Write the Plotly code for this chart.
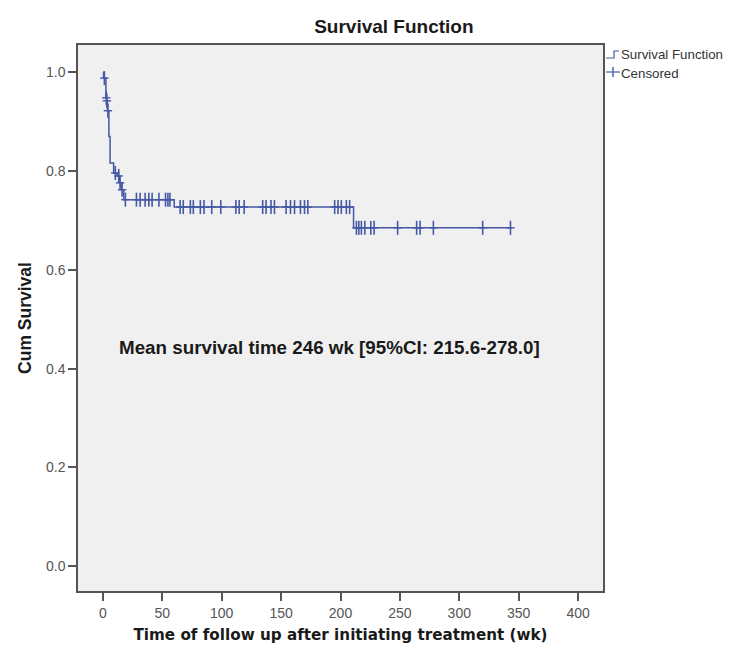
import plotly.graph_objects as go
import numpy as np

# Kaplan-Meier step function (event times and survival after each step)
step_times = [0, 0.5, 2.5, 3.2, 3.8, 5, 6, 9, 12, 14, 15.5, 17.5, 60, 211]
step_surv = [1.0, 0.988, 0.948, 0.942, 0.922, 0.87, 0.816, 0.796, 0.790, 0.776, 0.762, 0.742, 0.727, 0.685]
end_time = 344

# Censored observation times (wk)
censored_times = [1.2, 2.8, 3.3, 4.2, 10.4, 13.3, 14.4, 16.1,
                  18.9, 28.2, 31.3, 35.5, 38.6, 41.4, 47.1, 52.7, 54.7, 56.4,
                  65, 67.6, 73.6, 76.1, 82, 85.1, 91.6, 99.2, 111.9, 114.7, 118.9,
                  134.5, 137.3, 141.5, 144.4, 154.2, 157.9, 161.3, 166.3, 169.7, 172.5,
                  195.1, 197.9, 200.7, 204.9, 207.7,
                  213.4, 215.4, 217.6, 220.5, 225.5, 228.3, 248.1, 264.1, 267.0, 278.2,
                  319.7, 343.1]

x_ticks = [0, 50, 100, 150, 200, 250, 300, 350, 400]
y_ticks = [0.0, 0.2, 0.4, 0.6, 0.8, 1.0]
y_tick_labels = ["0.0", "0.2", "0.4", "0.6", "0.8", "1.0"]

title_text = "Survival Function"
x_title = "Time of follow up after initiating treatment (wk)"
y_title = "Cum Survival"
note_text = "Mean survival time 246 wk [95%CI: 215.6-278.0]"
legend_labels = ["Survival Function", "Censored"]

blue = "#4558A5"
arial = "Arial, Liberation Sans, sans-serif"

line_x = step_times + [end_time]
line_y = step_surv + [step_surv[-1]]

def surv_at(t):
    idx = np.searchsorted(step_times, t, side="right") - 1
    return step_surv[idx]

cens_y = [surv_at(t) for t in censored_times]

fig = go.Figure()
fig.add_trace(go.Scatter(x=line_x, y=line_y, mode="lines", line=dict(shape="hv", color=blue, width=1.5),
                         name=legend_labels[0], showlegend=False, hoverinfo="skip"))
# censored "+" marks: taller vertical stroke, shorter horizontal stroke
fig.add_trace(go.Scatter(x=censored_times, y=cens_y, mode="markers",
                         marker=dict(symbol="line-ns", size=10, line=dict(color=blue, width=1.6), color=blue),
                         name=legend_labels[1], showlegend=False))
fig.add_trace(go.Scatter(x=censored_times, y=cens_y, mode="markers",
                         marker=dict(symbol="line-ew", size=6, line=dict(color=blue, width=1.4), color=blue),
                         name=legend_labels[1], showlegend=False, hoverinfo="skip"))

# custom legend (SPSS style), in paper coordinates
def px_x(p):
    return (p - 70) / 525.0

def px_y(p):
    return (583 - p) / 546.0

fig.add_shape(type="path", xref="paper", yref="paper",
              path=f"M {px_x(598)},{px_y(50)} L {px_x(606)},{px_y(50)} L {px_x(606)},{px_y(43)} L {px_x(611)},{px_y(43)}",
              line=dict(color=blue, width=1.2))
fig.add_shape(type="line", xref="paper", yref="paper", x0=px_x(598), x1=px_x(612), y0=px_y(64), y1=px_y(64),
              line=dict(color=blue, width=1.2))
fig.add_shape(type="line", xref="paper", yref="paper", x0=px_x(605), x1=px_x(605), y0=px_y(59), y1=px_y(69),
              line=dict(color=blue, width=1.4))
fig.add_annotation(x=px_x(611), y=px_y(46), xref="paper", yref="paper", text=legend_labels[0],
                   showarrow=False, xanchor="left", yanchor="middle",
                   font=dict(family=arial, size=13.3, color="#333"))
fig.add_annotation(x=px_x(611), y=px_y(65), xref="paper", yref="paper", text=legend_labels[1],
                   showarrow=False, xanchor="left", yanchor="middle",
                   font=dict(family=arial, size=13.3, color="#333"))

fig.add_annotation(x=11.8, y=0.442, xref="x", yref="y", text="<b>" + note_text + "</b>",
                   showarrow=False, xanchor="left", yanchor="middle",
                   font=dict(family=arial, size=18.8, color="#1a1a1a"))

fig.update_layout(
    width=735, height=645,
    paper_bgcolor="white", plot_bgcolor="#F0F0F0",
    margin=dict(l=70, r=140, t=37, b=62, autoexpand=False),
    showlegend=False,
    title=dict(text="<b>" + title_text + "</b>", x=0.525, xanchor="center", y=0.971, yanchor="middle",
               font=dict(family=arial, size=19, color="#1a1a1a")),
    xaxis=dict(range=[-21, 421], tickvals=x_ticks, ticks="outside", ticklen=8, tickcolor="#555",
               tickwidth=1.5, showgrid=False, zeroline=False, showline=True, linecolor="#555",
               linewidth=1.5, mirror=True,
               tickfont=dict(family=arial, size=14, color="#555"),
               title=dict(text="<b>" + x_title + "</b>", standoff=10,
                          font=dict(family="DejaVu Sans", size=15.2, color="#1a1a1a"))),
    yaxis=dict(range=[-0.05, 1.055], tickvals=y_ticks, ticktext=y_tick_labels, ticks="outside", ticklen=8,
               tickcolor="#555", tickwidth=1.5, showgrid=False, zeroline=False, showline=True,
               linecolor="#555", linewidth=1.5, mirror=True,
               tickfont=dict(family=arial, size=14, color="#555"),
               title=dict(text="<b>" + y_title + "</b>", standoff=10,
                          font=dict(family=arial, size=17.5, color="#1a1a1a"))),
)

fig.write_html("out.html")
